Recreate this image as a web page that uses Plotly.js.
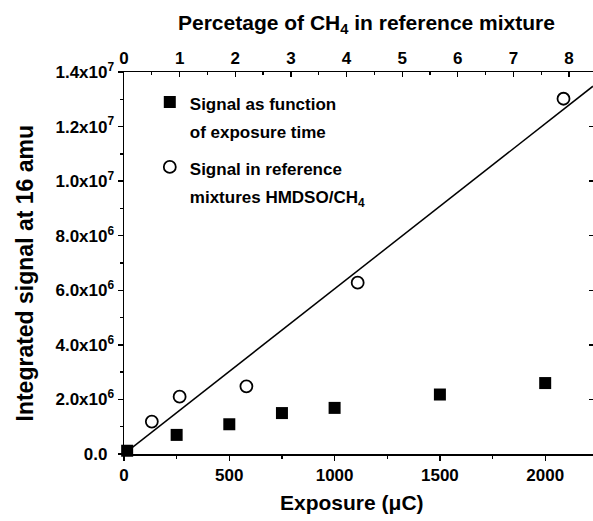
<!DOCTYPE html>
<html>
<head>
<meta charset="utf-8">
<script src="https://cdn.plot.ly/plotly-3.0.1.min.js"></script>
<style>
  html, body { margin: 0; padding: 0; background: #fff; }
  #chart { width: 593px; height: 521px; }
</style>
</head>
<body>
<div id="chart"></div>
<script>
// Signal at 16 amu versus exposure (bottom axis)
const exposure = [15, 250, 500, 750, 1000, 1500, 2000];
const signalExposure = [1.2e5, 0.70e6, 1.09e6, 1.50e6, 1.69e6, 2.18e6, 2.60e6];

// Signal in HMDSO/CH4 reference mixtures versus CH4 percentage (top axis)
const pctCH4 = [0.5, 1.0, 2.2, 4.2, 7.9];
const signalRef = [1.19e6, 2.10e6, 2.48e6, 6.28e6, 1.302e7];

// Linear calibration through the reference mixtures
const fitPct = [0, 8.43];
const fitSignal = [0, 1.348e7];

// Axis ticks (a figure-space superscript keeps "0.0" aligned with the powers of ten)
const yTickVals = [0, 2e6, 4e6, 6e6, 8e6, 1e7, 1.2e7, 1.4e7];
const yTickText = ['0.0<sup>\u2007</sup>', '2.0x10<sup>6</sup>', '4.0x10<sup>6</sup>', '6.0x10<sup>6</sup>',
                   '8.0x10<sup>6</sup>', '1.0x10<sup>7</sup>', '1.2x10<sup>7</sup>', '1.4x10<sup>7</sup>'];

// Axis titles
const xTitle = 'Exposure (μC)';
const x2Title = 'Percetage of CH<sub>4</sub> in reference mixture';
const yTitle = 'Integrated signal at 16 amu';

const FONT = 'Liberation Sans, Arial, sans-serif';
const boldFont = (size) => ({ family: FONT, size: size, color: '#000', weight: 'bold' });
const small = (t) => '<span style="font-size:17px">' + t + '</span>';

const traces = [
  {
    x: exposure, y: signalExposure, xaxis: 'x', yaxis: 'y',
    type: 'scatter', mode: 'markers', cliponaxis: false, legendgroup: 'exposure',
    name: small('Signal as function') + '<br>' + small('of exposure time'),
    marker: { symbol: 'square', size: 12, color: '#000' }
  },
  {
    x: pctCH4, y: signalRef, xaxis: 'x2', yaxis: 'y',
    type: 'scatter', mode: 'markers', cliponaxis: false, legendgroup: 'reference',
    name: small('Signal in reference') + '<br>' + small('mixtures HMDSO/CH<sub>4</sub>'),
    marker: { symbol: 'circle-open', size: 12, color: '#000', line: { width: 1.8, color: '#000' } }
  },
  {
    x: fitPct, y: fitSignal, xaxis: 'x2', yaxis: 'y',
    type: 'scatter', mode: 'lines', showlegend: false,
    line: { color: '#000', width: 1.5 }
  },
  {
    // invisible anchor so the right-hand tick axis is drawn
    x: [0], y: [0], xaxis: 'x', yaxis: 'y2', type: 'scatter', mode: 'markers',
    marker: { opacity: 0 }, showlegend: false, hoverinfo: 'skip'
  }
];

const axisCommon = {
  tickwidth: 1.3, tickcolor: '#000',
  showline: true, linecolor: '#000', linewidth: 1.5,
  showgrid: false, zeroline: false, automargin: false,
  tickfont: boldFont(17)
};

const layout = {
  width: 593, height: 521,
  margin: { l: 124, r: 0, t: 72, b: 67 },
  paper_bgcolor: '#fff', plot_bgcolor: '#fff',
  font: boldFont(17),
  showlegend: true,
  legend: {
    x: 0.055, y: 0.975, xanchor: 'left', yanchor: 'top',
    bgcolor: 'rgba(0,0,0,0)', borderwidth: 0,
    font: boldFont(21.5), valign: 'top', tracegroupgap: 6,
    itemwidth: 30
  },
  xaxis: Object.assign({}, axisCommon, {
    range: [0, 2227], tickvals: [0, 500, 1000, 1500, 2000],
    ticks: 'outside', ticklen: 5,
    minor: { dtick: 250, tick0: 0, ticks: 'outside', ticklen: 3, tickwidth: 1.3, tickcolor: '#000', showgrid: false }
  }),
  xaxis2: Object.assign({}, axisCommon, {
    overlaying: 'x', side: 'top', anchor: 'y',
    range: [0, 8.43], tickvals: [0, 1, 2, 3, 4, 5, 6, 7, 8],
    ticks: 'inside', ticklen: 5,
    minor: { dtick: 0.5, tick0: 0, ticks: 'inside', ticklen: 3, tickwidth: 1.3, tickcolor: '#000', showgrid: false }
  }),
  yaxis: Object.assign({}, axisCommon, {
    range: [0, 1.4e7], tickvals: yTickVals, ticktext: yTickText,
    ticks: 'outside', ticklen: 5,
    minor: { dtick: 1e6, tick0: 0, ticks: 'outside', ticklen: 3, tickwidth: 1.3, tickcolor: '#000', showgrid: false }
  }),
  yaxis2: {
    overlaying: 'y', side: 'right', anchor: 'x',
    range: [0, 1.4e7], tickvals: yTickVals,
    ticks: 'inside', ticklen: 4, tickwidth: 1.3, tickcolor: '#000',
    showticklabels: false, showline: false, showgrid: false, zeroline: false, automargin: false
  },
  annotations: [
    { text: xTitle, xref: 'paper', yref: 'paper', x: 0.486, y: -0.128,
      xanchor: 'center', yanchor: 'middle', showarrow: false, font: boldFont(21) },
    { text: x2Title, xref: 'paper', yref: 'paper', x: 0.517, y: 1.125,
      xanchor: 'center', yanchor: 'middle', showarrow: false, font: boldFont(21) },
    { text: yTitle, xref: 'paper', yref: 'paper', x: -0.2132, y: 0.4725, textangle: -90,
      xanchor: 'center', yanchor: 'middle', showarrow: false, font: boldFont(23) }
  ]
};

Plotly.newPlot('chart', traces, layout, { displayModeBar: false, staticPlot: true });
</script>
</body>
</html>
